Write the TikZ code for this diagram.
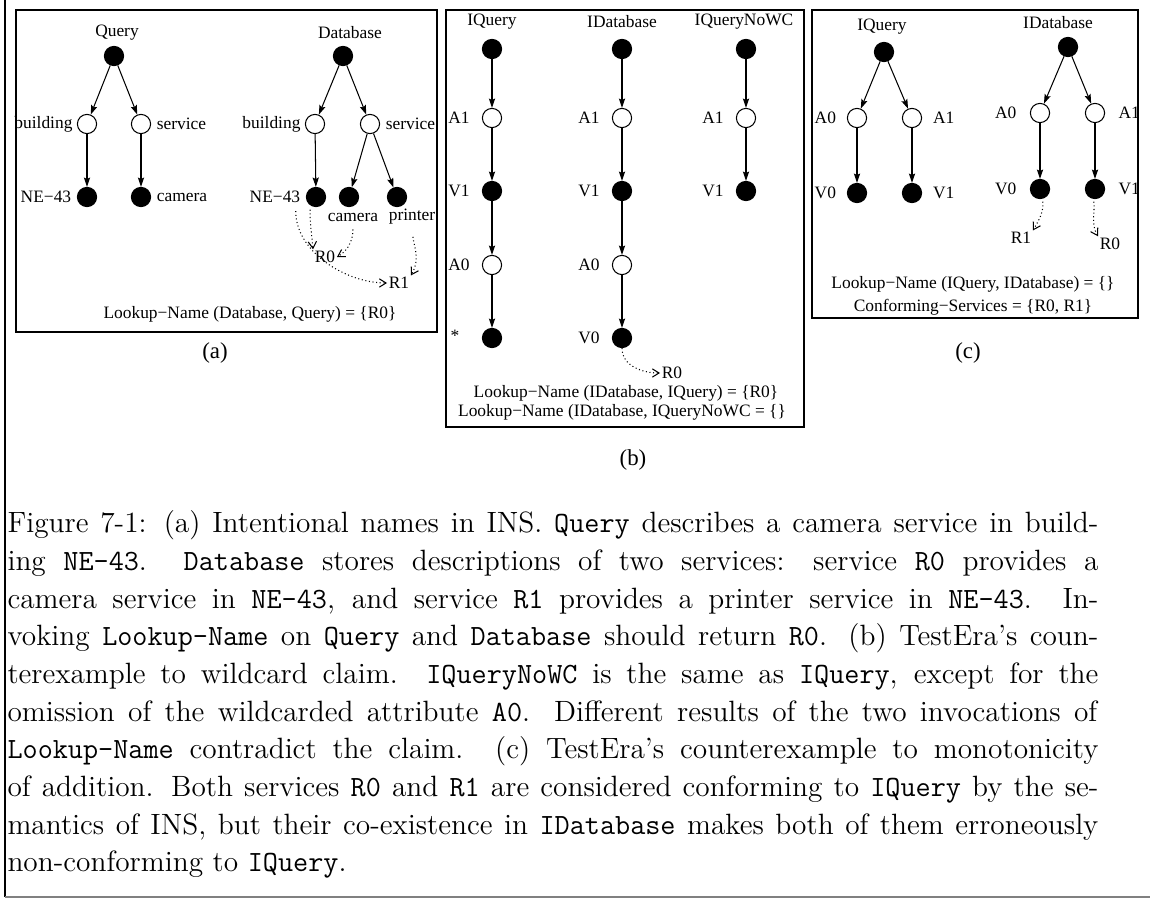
\documentclass[tikz,border=0pt]{standalone}
\usepackage{fontspec}
\newfontfamily\figfont{Liberation Serif}
\usetikzlibrary{positioning,arrows.meta}

\begin{document}
\begin{tikzpicture}[
    x=0.385pt,
    y=-0.385pt,
    >={Stealth[length=3.6pt,width=2.4pt,inset=0.6pt]},
    node distance=1.5pt,
    val/.style={circle,draw,fill=black,minimum size=7.4pt,inner sep=0pt},
    att/.style={circle,draw,fill=white,minimum size=7.4pt,inner sep=0pt},
    lbl/.style={font=\figfont\fontsize{6.7pt}{8pt}\selectfont,inner sep=0.5pt},
    sub/.style={font=\figfont\fontsize{8.8pt}{10pt}\selectfont},
    pil/.style={
        ->,
        thin,},
    res/.style={
        -{Straight Barb[length=2.6pt,width=3.2pt]},
        densely dotted,
        thin,},
    panel/.style={draw,line width=0.45pt}
]

\useasboundingbox (0,0) rectangle (1150,898);
\draw[line width=0.6pt] (5,0) -- (5,897);
\draw[gray,line width=0.6pt] (5,897) -- (1150,897);

% (a)
\draw[panel] (16,10) rectangle (437,332);

\node[lbl] (qname) at (117,33) {Query};
\node[val] (q0) at (114,56) {};
\node[att] (qb) at (87,124) {};
\node[att] (qs) at (141,124) {};
\node[val] (qn) at (87,197) {};
\node[val] (qc) at (141,197) {};
\node[lbl,left=1pt of qb] {building};
\node[lbl,right=of qs] {service};
\node[lbl,left=of qn] {NE−43};
\node[lbl,right=of qc] {camera};

\path[pil] (q0) edge (qb) edge (qs);
\path[pil] (qb) edge (qn);
\path[pil] (qs) edge (qc);

\node[lbl] (dname) at (350,33) {Database};
\node[val] (d0) at (343,56) {};
\node[att] (db) at (315,124) {};
\node[att] (ds) at (370,124) {};
\node[val] (dn) at (316,197) {};
\node[val] (dc) at (349,197) {};
\node[val] (dp) at (397,197) {};
\node[lbl,left=1pt of db] {building};
\node[lbl,right=of ds] {service};
\node[lbl,left=of dn] (dnlab) {NE−43};
\node[lbl] (dclab) at (353,217) {camera};
\node[lbl] (dplab) at (412,217) {printer};
\node[lbl] (r0) at (325,257) {R0};
\node[lbl] (r1) at (399,283) {R1};

\path[pil] (d0) edge (db) edge (ds);
\path[pil] (db) edge (dn);
\path[pil] (ds) edge (dc) edge (dp);

\draw[res] ([xshift=-2.3pt,yshift=-1pt]dn.south) to[out=-90,in=95] (r0.north west);
\draw[res,shorten <=2.5pt] (dclab.south) to[out=-90,in=30] (r0.east);
\draw[res] ([xshift=-2.4pt,yshift=-2.5pt]dnlab.south east) to[out=-90,in=180,looseness=0.9] (r1.west);
\draw[res,shorten <=4pt] (dplab.south) to[out=-85,in=60] (r1.north east);

\node[lbl] (alook) at (250,314) {Lookup−Name (Database, Query) = \{R0\}};
\node[sub] (acap) at (215,353) {(a)};

% (b)
\draw[panel] (446,10) rectangle (804,427);

\node[lbl] (iqname) at (492,22) {IQuery};
\node[val] (iq0) at (492,49) {};
\node[att] (iqa1) at (492,118) {};
\node[val] (iqv1) at (492,191) {};
\node[att] (iqa0) at (492,265) {};
\node[val] (iqw) at (492,338) {};
\node[lbl,left=4pt of iqa1] {A1};
\node[lbl,left=4pt of iqv1] {V1};
\node[lbl,left=4pt of iqa0] {A0};
\node[lbl] at (455,336) {*};

\path[pil] (iq0) edge (iqa1);
\path[pil] (iqa1) edge (iqv1);
\path[pil] (iqv1) edge (iqa0);
\path[pil] (iqa0) edge (iqw);

\node[lbl] (idname) at (622,22) {IDatabase};
\node[val] (id0) at (622,49) {};
\node[att] (ida1) at (622,118) {};
\node[val] (idv1) at (622,191) {};
\node[att] (ida0) at (622,265) {};
\node[val] (idv0) at (622,338) {};
\node[lbl,left=4pt of ida1] {A1};
\node[lbl,left=4pt of idv1] {V1};
\node[lbl,left=4pt of ida0] {A0};
\node[lbl,left=4pt of idv0] {V0};
\node[lbl] (ir0) at (672,373) {R0};

\path[pil] (id0) edge (ida1);
\path[pil] (ida1) edge (idv1);
\path[pil] (idv1) edge (ida0);
\path[pil] (ida0) edge (idv0);
\draw[res] (idv0.south) to[out=-90,in=180] (ir0.west);

\node[lbl] (nwname) at (744,22) {IQueryNoWC};
\node[val] (nw0) at (746,49) {};
\node[att] (nwa1) at (746,118) {};
\node[val] (nwv1) at (746,191) {};
\node[lbl,left=4pt of nwa1] {A1};
\node[lbl,left=4pt of nwv1] {V1};

\path[pil] (nw0) edge (nwa1);
\path[pil] (nwa1) edge (nwv1);

\node[lbl] (blook) at (626,393) {Lookup−Name (IDatabase, IQuery) = \{R0\}};
\node[lbl] (blook2) at (622,412) {Lookup−Name (IDatabase, IQueryNoWC = \{\}};
\node[sub] (bcap) at (633,460) {(b)};

% (c)
\draw[panel] (812,10) rectangle (1138,318);

\node[lbl] (cqname) at (882,27) {IQuery};
\node[val] (cq0) at (884,52) {};
\node[att] (cqa0) at (857,118) {};
\node[att] (cqa1) at (912,118) {};
\node[val] (cqv0) at (857,193) {};
\node[val] (cqv1) at (912,193) {};
\node[lbl,left=3.5pt of cqa0] {A0};
\node[lbl,right=3.5pt of cqa1] {A1};
\node[lbl,left=3.5pt of cqv0] {V0};
\node[lbl,right=3.5pt of cqv1] {V1};

\path[pil] (cq0) edge (cqa0) edge (cqa1);
\path[pil] (cqa0) edge (cqv0);
\path[pil] (cqa1) edge (cqv1);

\node[lbl] (cdname) at (1058,23) {IDatabase};
\node[val] (cd0) at (1068,47) {};
\node[att] (cda0) at (1040,113) {};
\node[att] (cda1) at (1095,113) {};
\node[val] (cdv0) at (1040,189) {};
\node[val] (cdv1) at (1095,189) {};
\node[lbl,left=4.5pt of cda0] {A0};
\node[lbl,right=4.5pt of cda1] {A1};
\node[lbl,left=4.5pt of cdv0] {V0};
\node[lbl,right=4.5pt of cdv1] {V1};
\node[lbl] (cr1) at (1021,238) {R1};
\node[lbl] (cr0) at (1110,244) {R0};

\path[pil] (cd0) edge (cda0) edge (cda1);
\path[pil] (cda0) edge (cdv0);
\path[pil] (cda1) edge (cdv1);
\draw[res,shorten <=1pt] ([xshift=1pt]cdv0.south) to[out=-85,in=60] (cr1.north east);
\draw[res,shorten <=1pt] ([xshift=-0.5pt]cdv1.south) to[out=-85,in=120] (cr0.north west);

\node[lbl] (clook) at (973,284) {Lookup−Name (IQuery, IDatabase) = \{\}};
\node[lbl] (cconf) at (973,307) {Conforming−Services = \{R0, R1\}};
\node[sub] (ccap) at (968,353) {(c)};

% caption
\node[anchor=base west,text width=420pt,align=justify,inner sep=0pt,
      font=\fontsize{11.3pt}{14.5pt}\selectfont] (figcap) at (7,533) {\noindent
\hyphenpenalty=10000\tolerance=9999
Figure 7-1: (a) Intentional names in INS. \texttt{Query} describes a camera service in build-\linebreak
ing \texttt{NE-43}. \texttt{Database} stores descriptions of two services: service \texttt{R0} provides a\linebreak
camera service in \texttt{NE-43}, and service \texttt{R1} provides a printer service in \texttt{NE-43}. In-\linebreak
voking \texttt{Lookup-Name} on \texttt{Query} and \texttt{Database} should return \texttt{R0}. (b) TestEra's coun-\linebreak
terexample to wildcard claim. \texttt{IQueryNoWC} is the same as \texttt{IQuery}, except for the\linebreak
omission of the wildcarded attribute \texttt{A0}. Different results of the two invocations of\linebreak
\texttt{Lookup-Name} contradict the claim. (c) TestEra's counterexample to monotonicity\linebreak
of addition. Both services \texttt{R0} and \texttt{R1} are considered conforming to \texttt{IQuery} by the se-\linebreak
mantics of INS, but their co-existence in \texttt{IDatabase} makes both of them erroneously\linebreak
non-conforming to \texttt{IQuery}.};

\end{tikzpicture}
\end{document}
